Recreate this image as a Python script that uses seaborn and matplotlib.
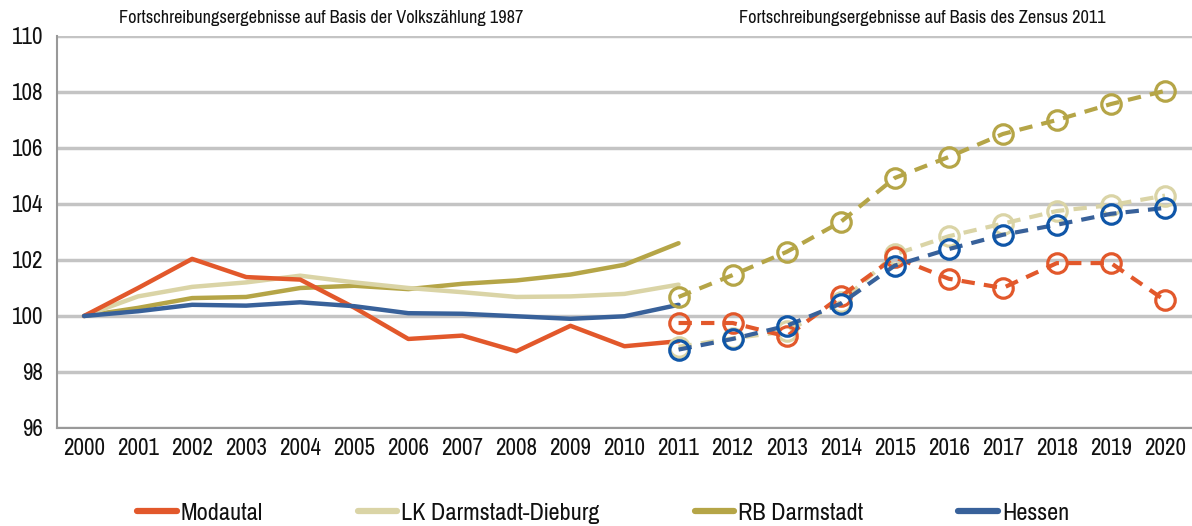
import matplotlib
matplotlib.use("Agg")
import matplotlib.pyplot as plt
import seaborn as sns
import pandas as pd
import numpy as np

# Index 2000 = 100
years_old = list(range(2000, 2012))
years_new = list(range(2011, 2021))

series = ["Modautal", "LK Darmstadt-Dieburg", "RB Darmstadt", "Hessen"]

# Fortschreibung auf Basis der Volkszählung 1987 (2000-2011)
modautal_old = [100.0, 101.0, 102.04, 101.39, 101.3, 100.3, 99.18, 99.3, 98.74, 99.65, 98.92, 99.1]
lk_old = [100.0, 100.7, 101.04, 101.2, 101.44, 101.2, 101.0, 100.85, 100.68, 100.7, 100.79, 101.12]
rb_old = [100.0, 100.29, 100.64, 100.68, 101.0, 101.08, 100.96, 101.15, 101.27, 101.48, 101.83, 102.6]
hessen_old = [100.0, 100.17, 100.4, 100.37, 100.49, 100.35, 100.1, 100.08, 99.99, 99.9, 99.99, 100.4]

# Fortschreibung auf Basis des Zensus 2011 (2011-2020)
modautal_new = [99.75, 99.75, 99.27, 100.7, 102.1, 101.33, 101.0, 101.89, 101.89, 100.56]
lk_new = [98.9, 99.2, 99.45, 100.5, 102.2, 102.85, 103.3, 103.75, 103.96, 104.3]
rb_new = [100.68, 101.46, 102.29, 103.36, 104.93, 105.68, 106.5, 107.0, 107.57, 108.04]
hessen_new = [98.8, 99.18, 99.65, 100.44, 101.8, 102.39, 102.9, 103.26, 103.65, 103.86]

colors = {
    "Modautal": "#E2582B",
    "LK Darmstadt-Dieburg": "#DAD4A6",
    "RB Darmstadt": "#B5A547",
    "Hessen": "#38619A",
}
marker_colors = {
    "Modautal": "#E2582B",
    "LK Darmstadt-Dieburg": "#DAD4A6",
    "RB Darmstadt": "#B5A547",
    "Hessen": "#0F56A8",
}

old = {"Modautal": modautal_old, "LK Darmstadt-Dieburg": lk_old,
       "RB Darmstadt": rb_old, "Hessen": hessen_old}
new = {"Modautal": modautal_new, "LK Darmstadt-Dieburg": lk_new,
       "RB Darmstadt": rb_new, "Hessen": hessen_new}

sns.set_style("white")
plt.rcParams['font.family'] = ['Pragati Narrow', 'DejaVu Sans']

fig = plt.figure(figsize=(11.92, 5.26), dpi=100)
ax = fig.add_axes([57 / 1192, 1 - 428 / 526, 1 - 57 / 1192, (428 - 36) / 526])

draw_order = ["RB Darmstadt", "LK Darmstadt-Dieburg", "Modautal", "Hessen"]
for name in draw_order:
    df_old = pd.DataFrame({"Jahr": years_old, "Index": old[name]})
    sns.lineplot(data=df_old, x="Jahr", y="Index", ax=ax, color=colors[name],
                 linewidth=3.2, solid_capstyle="round", zorder=3)
for name in draw_order:
    df_new = pd.DataFrame({"Jahr": years_new, "Index": new[name]})
    sns.lineplot(data=df_new, x="Jahr", y="Index", ax=ax, color=colors[name],
                 linewidth=3.0, linestyle=(0, (3.2, 2.2)), marker="o",
                 markersize=14, markerfacecolor="none",
                 markeredgecolor=marker_colors[name], markeredgewidth=2.3,
                 zorder=4)

ax.set_xlim(1999.5, 2020.41)
ax.set_ylim(96, 110)
ax.set_yticks(np.arange(96, 111, 2))
ax.set_xticks(years_old[:-1] + years_new)
ax.set_xticks(np.arange(1999.5, 2021, 1), minor=True)
ax.tick_params(axis="x", which="major", length=0, labelsize=18, pad=7, labelcolor="#111111")
ax.tick_params(axis="x", which="minor", length=6, width=1.5, color="#999999")
ax.tick_params(axis="y", length=6, width=1.5, color="#999999", labelsize=18, pad=4,
               labelcolor="#111111")
ax.set_xlabel("")
ax.set_ylabel("")
ax.grid(axis="y", color="#C4C4C4", linewidth=2.5)
ax.set_axisbelow(True)
for side in ["top", "right"]:
    ax.spines[side].set_visible(False)
for side in ["left", "bottom"]:
    ax.spines[side].set_color("#999999")
    ax.spines[side].set_linewidth(1.5)

fig.text(321 / 1192, 1 - 18 / 526, "Fortschreibungsergebnisse auf Basis der Volkszählung 1987",
         ha="center", va="center", fontsize=14.3, color="#111111")
fig.text(922 / 1192, 1 - 18 / 526, "Fortschreibungsergebnisse auf Basis des Zensus 2011",
         ha="center", va="center", fontsize=14.3, color="#111111")

handles = [plt.Line2D([], [], color=colors[n], linewidth=4.5) for n in series]
fig.legend(handles, series, loc="center", bbox_to_anchor=(603 / 1192, 1 - 513 / 526),
           ncol=4, frameon=False, fontsize=19, handlelength=1.5, handletextpad=0.15,
           columnspacing=3.6, labelcolor="#111111")

fig.savefig("out.png", dpi=100)
